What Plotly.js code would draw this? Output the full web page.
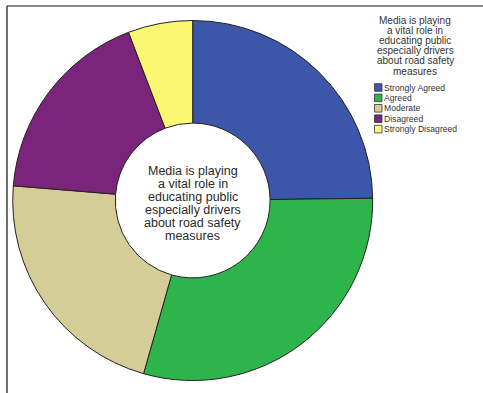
<!DOCTYPE html>
<html>
<head>
<meta charset="utf-8">
<script src="https://cdn.plot.ly/plotly-3.0.1.min.js"></script>
<style>html,body{margin:0;padding:0;background:#fff;}#chart{width:483px;height:393px;}</style>
</head>
<body>
<div id="chart"></div>
<script>
const categories = ["Strongly Agreed", "Agreed", "Moderate", "Disagreed", "Strongly Disagreed"];
const values = [24.8, 29.6, 21.9, 17.9, 5.8];
const colors = ["#3c56aa", "#2db54b", "#d4cd98", "#7a247b", "#fbf772"];
const titleLines = ["Media is playing", "a vital role in", "educating public", "especially drivers", "about road safety", "measures"];

const W = 483, H = 393;
const px = x => x / W;
const py = y => 1 - y / H;

const annotations = [];
const shapes = [];

// center text
titleLines.forEach((t, i) => {
  annotations.push({
    text: t, xref: "paper", yref: "paper",
    x: px(192.5), y: py(171 + i * 12.9),
    xanchor: "center", yanchor: "middle", showarrow: false,
    font: {family: "Liberation Sans, Arial, sans-serif", size: 12.5, color: "#2a2a2a"}
  });
});
// legend title
titleLines.forEach((t, i) => {
  annotations.push({
    text: t, xref: "paper", yref: "paper",
    x: px(415), y: py(20.3 + i * 10.15),
    xanchor: "center", yanchor: "middle", showarrow: false,
    font: {family: "Liberation Sans, Arial, sans-serif", size: 10, color: "#333"}
  });
});
// legend items
categories.forEach((c, i) => {
  const yc = 87.5 + i * 10.4;
  annotations.push({
    text: c, xref: "paper", yref: "paper",
    x: px(381.5), y: py(yc),
    xanchor: "left", yanchor: "middle", showarrow: false,
    font: {family: "Liberation Sans, Arial, sans-serif", size: 8.6, color: "#333"}
  });
  shapes.push({
    type: "rect", xref: "paper", yref: "paper",
    x0: px(374.5), x1: px(382), y0: py(yc - 3.8), y1: py(yc + 3.8),
    fillcolor: colors[i], line: {color: "#333", width: 0.8}
  });
});
// frame
shapes.push({type: "line", xref: "paper", yref: "paper", x0: px(7), x1: px(483), y0: py(6), y1: py(6), line: {color: "#111", width: 1.2}});
shapes.push({type: "line", xref: "paper", yref: "paper", x0: px(7), x1: px(7), y0: py(6), y1: py(393), line: {color: "#111", width: 1.2}});

const trace = {
  type: "pie",
  labels: categories,
  values: values,
  hole: 0.43,
  sort: false,
  direction: "clockwise",
  rotation: 0,
  textinfo: "none",
  hoverinfo: "label+percent",
  marker: {colors: colors, line: {color: "#222", width: 1}},
  domain: {x: [px(12.7), px(372.7)], y: [py(380.5), py(20.5)]},
  showlegend: false
};

Plotly.newPlot("chart", [trace], {
  width: W, height: H,
  margin: {l: 0, r: 0, t: 0, b: 0},
  paper_bgcolor: "#fff",
  showlegend: false,
  annotations: annotations,
  shapes: shapes
}, {displayModeBar: false, staticPlot: true});
</script>
</body>
</html>
